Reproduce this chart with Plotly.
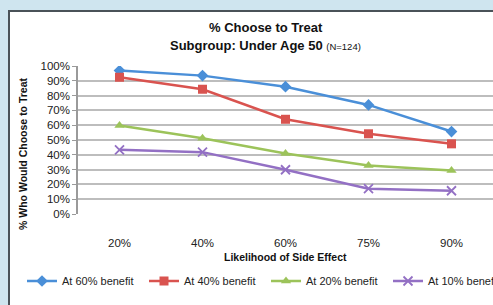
import plotly.graph_objects as go

categories = ["20%", "40%", "60%", "75%", "90%"]
benefit_60 = [96.9, 93.5, 86.0, 73.7, 55.7]
benefit_40 = [92.4, 84.3, 64.0, 54.2, 47.4]
benefit_20 = [59.8, 51.2, 40.9, 32.8, 29.4]
benefit_10 = [43.4, 41.8, 29.9, 17.1, 15.7]
series_names = ["At 60% benefit", "At 40% benefit", "At 20% benefit", "At 10% benefit"]
y_ticks = [0, 10, 20, 30, 40, 50, 60, 70, 80, 90, 100]
y_tick_labels = [f"{v}%" for v in y_ticks]

FONT = "Arial, 'Liberation Sans', sans-serif"
W, H = 493, 305
L, R, T, B = 78, 0, 66, 91
pw, ph = W - L - R, H - T - B

def px_x(x):
    return (x - L) / pw

def px_y(y):
    return (H - B - y) / ph

colors = ["#4a8fd8", "#d9534f", "#9cc35a", "#9370c4"]
symbols = ["diamond", "square", "triangle-up", "x-thin"]
sizes = [9, 9, 9, 9]
data = [benefit_60, benefit_40, benefit_20, benefit_10]

fig = go.Figure()
for name, vals, c, s, sz in zip(series_names, data, colors, symbols, sizes):
    marker = dict(symbol=s, size=sz, color=c)
    if s == "x-thin":
        marker["line"] = dict(color=c, width=1.8)
    fig.add_trace(go.Scatter(x=categories, y=vals, name=name, mode="lines+markers",
                             line=dict(color=c, width=2.5), marker=marker))

fig.update_layout(
    width=W, height=H,
    margin=dict(l=L, r=R, t=T, b=B, autoexpand=False),
    paper_bgcolor="#cfe5ef",
    plot_bgcolor="rgba(0,0,0,0)",
    font=dict(family=FONT, color="#222222"),
    showlegend=True,
    legend=dict(orientation="h", x=px_x(22), xanchor="left", y=px_y(281), yanchor="middle",
                font=dict(size=11, family=FONT, color="#222222"),
                entrywidth=77, entrywidthmode="pixels",
                bgcolor="rgba(0,0,0,0)", itemwidth=30),
    xaxis=dict(type="category", range=[-0.5, 4.5], showgrid=False, showline=False,
               zeroline=False, ticks="outside", ticklen=18, tickcolor="rgba(0,0,0,0)",
               tickfont=dict(size=11.5, family=FONT, color="#222222")),
    yaxis=dict(range=[0, 100], tickvals=y_ticks, ticktext=y_tick_labels,
               showgrid=True, gridcolor="#bdbdbd", gridwidth=1.5,
               showline=True, linecolor="#9a9a9a", linewidth=1.5,
               ticks="outside", ticklen=4, tickcolor="#9a9a9a",
               zeroline=False,
               tickfont=dict(size=11.5, family=FONT, color="#222222")),
    shapes=[dict(type="rect", xref="paper", yref="paper",
                 x0=px_x(9), x1=px_x(W + 10), y0=px_y(H + 10), y1=px_y(11),
                 fillcolor="white", line=dict(color="#4a5258", width=2), layer="below")],
    annotations=[
        dict(text="<b>% Choose to Treat</b>", xref="paper", yref="paper",
             x=px_x(266), y=px_y(28), xanchor="center", yanchor="middle", showarrow=False,
             font=dict(size=13, family=FONT, color="#111111")),
        dict(text="<b>Subgroup: Under Age 50</b> <span style='font-size:9.5px'>(N=124)</span>",
             xref="paper", yref="paper", x=px_x(265), y=px_y(45), xanchor="center", yanchor="middle",
             showarrow=False, font=dict(size=13, family=FONT, color="#111111")),
        dict(text="<b>% Who Would Choose to Treat</b>", xref="paper", yref="paper",
             x=px_x(23), y=px_y(153), xanchor="center", yanchor="middle", textangle=-90, showarrow=False,
             font=dict(size=10.5, family=FONT, color="#111111")),
        dict(text="<b>Likelihood of Side Effect</b>", xref="paper", yref="paper",
             x=px_x(285), y=px_y(257), xanchor="center", yanchor="middle", showarrow=False,
             font=dict(size=10.5, family=FONT, color="#111111")),
    ],
)

fig.write_html("out.html", config={"displayModeBar": False},
               post_script="document.body.style.margin='0';document.body.style.overflow='hidden';document.body.style.background='#cfe5ef';")
